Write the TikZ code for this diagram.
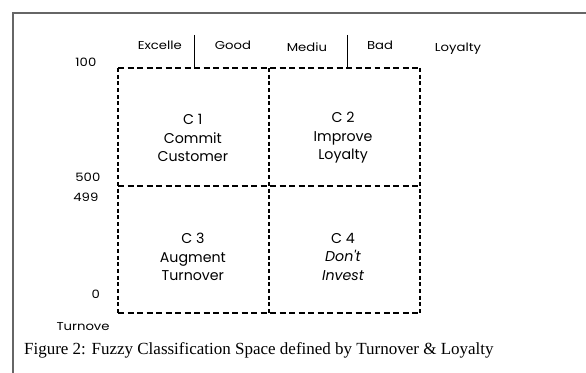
\documentclass[tikz,border=0pt]{standalone}
\usepackage{fontspec}
\setmainfont{Liberation Serif}
\newfontfamily\gothic{Poppins}
\newfontfamily\gothicwide[FakeStretch=1.15]{Poppins}
\tikzset{
  hgrid/.style={line width=1.4pt,dash pattern=on 6pt off 3.5pt},
  vgrid/.style={line width=1.4pt,dash pattern=on 4pt off 2.7pt},
  lab/.style={font=\gothicwide\fontsize{11.5}{13}\selectfont},
  cell/.style={font=\gothic\fontsize{14.2}{18.5}\selectfont,align=center}
}
\begin{document}
\begin{tikzpicture}
    \useasboundingbox (0,0) rectangle (20.60,13.11);
    % frame
    \draw[line width=1.3pt,gray!80!black] (20.60,12.65) -- (0.46,12.65) -- (0.46,0);
    % quadrants
    \draw[hgrid] (4.15,10.72) -- (14.76,10.72);
    \draw[hgrid] (4.15,6.57) -- (14.76,6.57);
    \draw[hgrid] (4.15,2.11) -- (14.76,2.11);
    \draw[vgrid] (4.15,10.72) -- (4.15,2.11);
    \draw[vgrid] (9.46,10.72) -- (9.46,2.11);
    \draw[vgrid] (14.76,10.72) -- (14.76,2.11);
    % loyalty scale
    \draw[line width=0.8pt] (6.85,11.88) -- (6.85,10.72);
    \draw[line width=0.8pt] (12.20,11.88) -- (12.20,10.72);
    \node[lab] (exc) at (5.62,11.53) {Excelle};
    \node[lab] (good) at (8.19,11.53) {Good};
    \node[lab] (med) at (10.79,11.46) {Mediu};
    \node[lab] (bad) at (13.36,11.50) {Bad};
    \node[lab] (loy) at (16.10,11.39) {Loyalty};
    % turnover scale
    \node[lab] (t100) at (3.02,10.93) {100};
    \node[lab] (t500) at (3.09,6.89) {500};
    \node[lab] (t499) at (3.02,6.19) {499};
    \node[lab] (t0) at (3.37,2.78) {0};
    \node[lab] (turn) at (2.92,1.62) {Turnove};
    % classes
    \node[cell] (c1) at (6.78,8.26) {C 1\\Commit\\Customer};
    \node[cell] (c2) at (12.06,8.26) {C 2\\Improve\\Loyalty};
    \node[cell] (c3) at (6.78,4.08) {C 3\\Augment\\Turnover};
    \node[cell] (c4) at (12.06,4.08) {C 4\\\textit{Don't}\\\textit{Invest}};
    \node[font=\fontsize{17}{20}\selectfont] (cap) at (9.10,0.81) {Figure 2: Fuzzy Classification Space defined by Turnover \& Loyalty};
\end{tikzpicture}
\end{document}
